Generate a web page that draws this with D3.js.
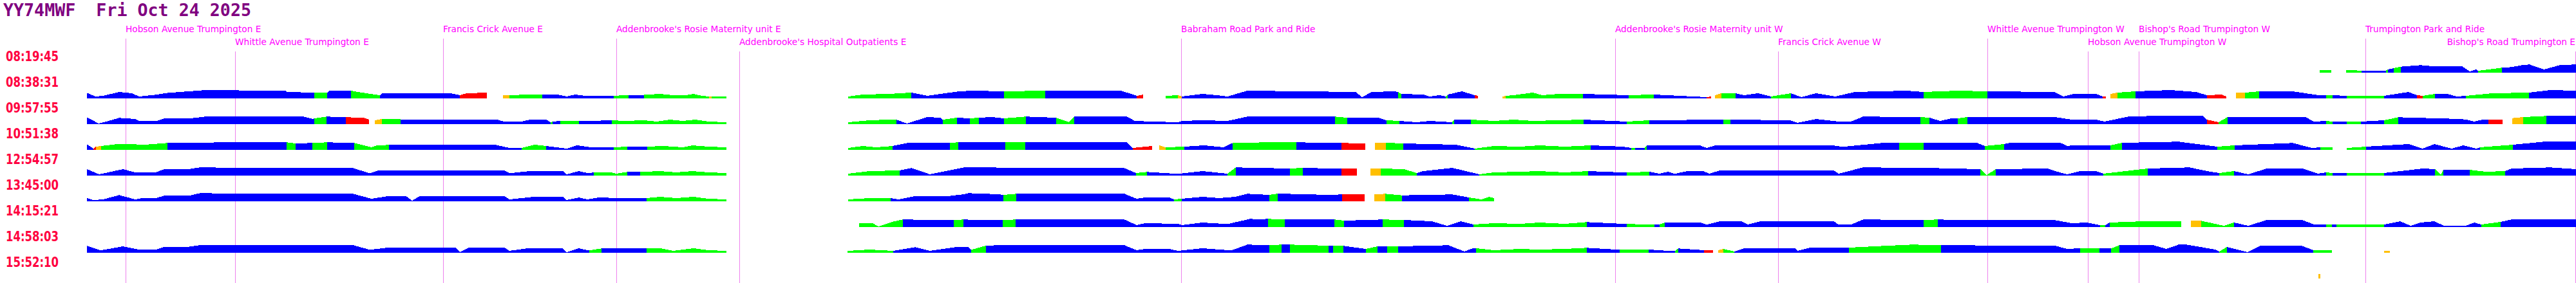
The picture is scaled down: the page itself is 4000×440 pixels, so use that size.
<!DOCTYPE html>
<html>
<head>
<meta charset="utf-8">
<script src="https://cdn.jsdelivr.net/npm/d3@7"></script>
<style>
  body { margin: 0; background: #fff; }
</style>
</head>
<body>
<div id="chart"></div>
<script>
// vehicle + day
const vehicle = "YY74MWF";
const dayLabel = "Fri Oct 24 2025";

// trip start times, one row each
const tripTimes = ["08:19:45", "08:38:31", "09:57:55", "10:51:38", "12:54:57",
                   "13:45:00", "14:15:21", "14:58:03", "15:52:10"];

// stops along the route (odometer km) and which label row they sit in
const stopNames = ["Hobson Avenue Trumpington E", "Whittle Avenue Trumpington E", "Francis Crick Avenue E",
  "Addenbrooke's Rosie Maternity unit E", "Addenbrooke's Hospital Outpatients E", "Babraham Road Park and Ride",
  "Addenbrooke's Rosie Maternity unit W", "Francis Crick Avenue W", "Whittle Avenue Trumpington W",
  "Hobson Avenue Trumpington W", "Bishop's Road Trumpington W", "Trumpington Park and Ride",
  "Bishop's Road Trumpington E"];
const stopKm = [1.95, 3.65, 6.88, 9.57, 11.48, 18.34, 25.08, 27.61, 30.86, 32.42, 33.21, 36.73, 39.99];
const stopLabelRow = [0, 1, 0, 0, 1, 0, 0, 1, 0, 1, 0, 0, 1];
const stopLineRow = [0, 1, 0, 0, 1, 0, 0, 1, 0, 1, 1, 0, 1];

// status colours
const statusKeys = ["b", "g", "o", "r"];
const statusColors = ["#0000ff", "#00ff00", "#ffbf00", "#ff0000"];

// [km, speed m/s, status of the stretch that starts here] (null = no data)
const trip_081945 = [[36.02,3.7,"g"],[36.20,3.7,null],[36.43,4,"g"],[36.67,3.3,"b"],[37.05,3.3,"g"],[37.08,5,"b"],
  [37.17,7,"g"],[37.28,9.3,"b"],[37.59,11.7,"b"],[37.78,10,"b"],[38.23,10,"b"],[38.35,2,"b"],[38.45,5,"b"],
  [38.48,3,"g"],[38.85,7.7,"b"],[39.00,8.7,"b"],[39.18,12,"b"],[39.28,12.7,"b"],[39.50,5,"b"],[39.76,12,"b"],
  [40.00,12.7,null]];

const trip_083831 = [[1.35,8.7,"b"],[1.48,3,"b"],[1.60,4,"b"],[1.85,10,"b"],[2.05,8,"b"],[2.16,3,"b"],[2.40,5.5,"b"],
  [2.60,8.5,"b"],[2.93,11,"b"],[3.20,13,"b"],[3.57,13,"b"],[3.85,12,"b"],[4.43,12,"b"],[4.46,10,"b"],[4.88,9,"g"],
  [5.08,9,"b"],[5.12,12,"b"],[5.45,12,"g"],[5.50,11,"g"],[5.75,7,"g"],[5.90,5,"b"],[5.94,8,"b"],[7.00,8,"b"],
  [7.14,5,"r"],[7.25,8,"r"],[7.56,9,null],[7.81,5,"o"],[7.91,5,"g"],[8.20,6,"g"],[8.42,6,"b"],[8.65,6,"b"],
  [8.80,3,"b"],[8.93,6,"b"],[9.05,4.5,"b"],[9.53,4,"g"],[9.76,5.5,"b"],[10.00,5.5,"g"],[10.25,7,"g"],[10.45,5,"g"],
  [10.65,5,"g"],[10.77,7,"g"],[10.90,4,"g"],[11.01,3,"o"],[11.05,3,"g"],[11.28,3,null],[13.17,3,"g"],[13.40,6,"g"],
  [13.80,7,"g"],[14.15,9,"b"],[14.40,4,"b"],[14.60,7,"b"],[14.90,11,"b"],[15.10,12,"b"],[15.59,11,"g"],
  [16.23,12,"b"],[17.40,12,"b"],[17.60,6,"b"],[17.65,4,"r"],[17.75,6,null],[18.10,4,"g"],[18.29,5,"o"],
  [18.35,3,"b"],[18.67,7,"b"],[18.90,5,"b"],[19.06,3,"b"],[19.37,12,"b"],[21.05,10,"b"],[21.15,2,"b"],
  [21.30,10,"b"],[21.65,11,"b"],[21.71,10,"g"],[21.76,7,"b"],[22.10,6,"b"],[22.20,3,"b"],[22.35,5,"b"],
  [22.45,3,"g"],[22.48,6,"b"],[22.70,11,"b"],[22.90,5,"r"],[22.95,4,null],[23.33,3,"o"],[23.38,4,"g"],
  [23.50,5,"g"],[23.80,9,"g"],[23.95,5,"g"],[24.20,7,"g"],[24.58,7,"b"],[25.29,5,"g"],[25.68,6,"b"],
  [26.50,2,"r"],[26.57,3,null],[26.63,5,"o"],[26.73,8,"g"],[26.95,8,"b"],[27.08,5,"b"],[27.30,8,"b"],
  [27.50,3,"g"],[27.81,8,"b"],[27.97,2,"b"],[28.20,8,"b"],[28.50,3,"b"],[28.80,10,"b"],[29.60,12,"b"],
  [29.87,10,"g"],[30.40,12,"g"],[30.86,11,"b"],[31.90,10,"b"],[32.04,3,"b"],[32.20,7,"b"],[32.55,7,"b"],
  [32.65,3,"r"],[32.70,3,null],[32.77,7,"o"],[32.88,9,"g"],[33.16,11,"b"],[33.70,13,"b"],[34.10,10,"b"],
  [34.27,5,"r"],[34.50,6,"r"],[34.57,3,null],[34.72,9,"o"],[34.86,9,"g"],[35.08,11,"b"],[35.60,11,"b"],
  [36.00,5,"b"],[36.12,5,"g"],[36.22,5,"b"],[36.44,4,"g"],[37.02,4,"b"],[37.40,10,"b"],[37.53,5,"r"],
  [37.62,4,"g"],[37.81,7,"b"],[38.00,7,"b"],[38.15,3,"b"],[38.29,4,"g"],[38.70,8,"g"],[39.27,9,"b"],
  [39.60,13,"b"],[40.00,12,null]];

const trip_095755 = [[1.35,10.7,"b"],[1.53,1,"b"],[1.65,4,"b"],[1.85,9.7,"b"],[2.10,8,"b"],[2.17,4.7,"b"],
  [2.42,4.7,"b"],[2.55,8.7,"b"],[2.93,8.7,"b"],[3.19,11.7,"b"],[4.60,11.7,"b"],[4.72,11.5,"b"],[4.86,8,"b"],
  [4.88,9,"g"],[5.07,11.7,"b"],[5.37,10.7,"r"],[5.65,10,"r"],[5.73,7,null],[5.82,6,"o"],[5.93,8,"g"],
  [6.22,7.5,"b"],[7.70,7.5,"b"],[7.84,3.7,"b"],[8.10,4,"b"],[8.23,7,"b"],[8.48,7,"b"],[8.55,3,"g"],[8.58,4,"b"],
  [8.70,5,"g"],[8.99,4.5,"b"],[9.50,6,"g"],[9.70,5,"g"],[10.00,6,"g"],[10.20,4,"g"],[10.40,7,"g"],[10.60,5,"g"],
  [10.80,7,"g"],[11.00,4,"g"],[11.28,3,null],[13.17,3,"g"],[13.50,6,"g"],[13.80,7,"g"],[13.92,7,"b"],
  [14.08,1,"b"],[14.40,11,"b"],[14.60,10,"b"],[14.64,7,"g"],[14.86,10,"b"],[15.06,9,"g"],[15.20,10,"b"],
  [15.40,11,"b"],[15.59,9,"g"],[15.93,11.7,"b"],[16.40,10,"g"],[16.60,3,"g"],[16.68,11.7,"b"],[17.50,11.7,"b"],
  [17.62,5,"b"],[17.90,4,"b"],[18.29,3,"b"],[18.35,5,"b"],[18.67,6,"b"],[19.06,5,"b"],[19.37,11.7,"b"],
  [20.73,11.7,"g"],[20.92,10,"b"],[21.40,10,"b"],[21.53,6,"g"],[21.73,5,"b"],[22.00,3,"b"],[22.20,5,"b"],
  [22.55,3,"g"],[22.58,7,"b"],[22.84,7,"g"],[23.20,5,"g"],[23.50,7,"g"],[23.80,5,"g"],[24.20,6,"g"],
  [24.59,7,"b"],[25.26,4,"g"],[25.61,6,"b"],[26.76,7,"g"],[26.87,7,"b"],[27.80,6,"b"],[27.91,2,"b"],
  [28.20,8,"b"],[28.55,4,"b"],[28.74,4,"b"],[28.93,11.7,"b"],[29.82,11,"g"],[29.96,10,"b"],[30.13,5,"b"],
  [30.30,9,"b"],[30.40,9,"g"],[30.55,11,"b"],[31.91,11,"b"],[32.17,7,"b"],[32.55,7,"b"],[32.68,4,"b"],
  [33.06,12,"b"],[33.44,12.7,"b"],[34.21,12.7,"b"],[34.27,7,"r"],[34.45,3,"g"],[34.59,11,"b"],[35.80,11,"b"],
  [35.93,4,"b"],[36.12,5,"g"],[36.22,4,"b"],[36.44,4,"g"],[36.66,4,"b"],[37.02,6,"g"],[37.24,10.7,"b"],
  [38.20,8,"b"],[38.30,7,"b"],[38.42,4,"b"],[38.55,7,"b"],[38.64,7,"r"],[38.86,7,null],[39.01,9.3,"o"],
  [39.18,11,"g"],[39.54,12.7,"b"],[40.00,12.7,null]];

const trip_105138 = [[1.35,8.7,"b"],[1.45,2,"r"],[1.49,5,"o"],[1.57,6,"g"],[1.80,8.7,"g"],[2.10,8.7,"g"],
  [2.20,7.7,"g"],[2.60,10.7,"b"],[3.50,11.7,"b"],[4.45,11.7,"g"],[4.59,10,"b"],[4.85,10.7,"g"],[5.08,11.7,"b"],
  [5.50,10.7,"g"],[5.77,4,"g"],[5.85,7,"g"],[6.04,7.7,"b"],[7.70,7.7,"b"],[7.91,3,"b"],[8.10,3,"g"],[8.30,8,"g"],
  [8.48,6,"b"],[8.80,2,"b"],[8.96,7,"b"],[9.18,4,"b"],[9.53,4,"g"],[9.74,5,"b"],[10.05,5,"g"],[10.30,6,"g"],
  [10.60,4,"g"],[10.75,7,"g"],[11.00,5,"g"],[11.28,4,null],[13.17,3,"g"],[13.40,6,"g"],[13.60,4,"g"],
  [13.86,6,"b"],[14.10,11,"b"],[14.75,11,"g"],[14.88,11.7,"b"],[15.61,11.7,"g"],[15.92,11.7,"b"],
  [17.50,11.7,"b"],[17.59,3,"r"],[17.89,6,null],[18.00,7,"o"],[18.10,4,"g"],[18.39,5,"b"],[18.70,7,"b"],
  [19.00,4,"b"],[19.14,10.7,"g"],[19.80,12,"g"],[20.13,11.7,"b"],[20.83,10.7,"r"],[21.20,10,null],
  [21.35,11,"o"],[21.52,11,"g"],[21.79,10,"b"],[22.60,8,"b"],[22.90,2,"g"],[23.20,6,"g"],[23.60,5,"g"],
  [23.90,7,"g"],[24.30,5,"g"],[24.70,7,"b"],[25.20,5,"b"],[25.33,3,"g"],[25.39,3,"b"],[25.54,3,"g"],
  [25.57,6.7,"b"],[26.40,6.7,"b"],[26.50,3,"b"],[26.63,6.7,"b"],[28.48,6.7,"b"],[28.61,4.7,"b"],[29.25,11,"b"],
  [29.49,10.7,"g"],[29.87,10.7,"b"],[30.70,10.7,"b"],[30.82,6,"g"],[31.12,9,"b"],[31.20,10.7,"b"],
  [32.00,10.7,"b"],[32.10,6,"b"],[32.17,7,"b"],[32.77,7,"g"],[32.95,11,"b"],[33.83,12.7,"b"],[34.20,8,"b"],
  [34.43,5,"g"],[34.70,7,"b"],[35.60,10.7,"b"],[35.90,3,"b"],[36.03,4,"g"],[36.22,4,null],[36.44,3,"g"],
  [36.74,5,"b"],[37.40,9,"b"],[37.62,2,"b"],[37.80,9,"b"],[38.07,2,"b"],[38.25,7,"b"],[38.45,2,"b"],
  [38.51,4,"g"],[39.02,8,"b"],[39.50,12.7,"b"],[40.00,12.7,null]];

const trip_125457 = [[1.35,10,"b"],[1.54,2,"b"],[1.91,10,"b"],[2.10,5,"b"],[2.42,5,"b"],[2.55,10,"b"],
  [2.93,10,"b"],[3.12,13,"b"],[3.57,12,"b"],[5.48,11.7,"b"],[5.74,3.7,"b"],[5.87,7.7,"b"],[7.84,7.7,"b"],
  [7.91,3.7,"b"],[8.23,7,"b"],[8.74,7,"b"],[8.80,2,"b"],[8.99,7,"b"],[9.12,4,"b"],[9.22,4.7,"g"],[9.50,4.7,"g"],
  [9.57,3,"g"],[9.74,5.7,"b"],[9.94,5.7,"g"],[10.25,7,"g"],[10.50,5,"g"],[10.75,7,"g"],[11.00,5,"g"],
  [11.28,4,null],[13.17,3,"g"],[13.50,7,"g"],[13.97,8,"b"],[14.15,11.7,"b"],[14.44,2,"b"],[14.97,12.7,"b"],
  [17.46,11.7,"b"],[17.64,4,"g"],[17.81,5.7,"b"],[18.29,2.7,"b"],[18.67,7,"b"],[19.06,3,"g"],[19.19,12.7,"b"],
  [20.03,11,"g"],[20.23,12,"b"],[20.83,10.7,"r"],[21.07,10.7,null],[21.28,11,"o"],[21.44,11,"g"],
  [21.80,10,"g"],[22.00,4,"b"],[22.10,7,"b"],[22.55,12,"b"],[22.97,2,"g"],[23.20,5,"g"],[23.60,6,"g"],
  [23.90,7,"g"],[24.30,5,"g"],[24.66,7,"b"],[25.26,4.7,"g"],[25.61,6,"b"],[25.77,3,"b"],[25.90,6,"b"],
  [26.00,2.7,"b"],[26.20,7,"b"],[26.45,7,"b"],[26.54,3,"b"],[26.70,7.7,"b"],[28.48,7.7,"b"],[28.55,3,"b"],
  [28.93,12.7,"b"],[29.90,12,"b"],[30.75,10,"g"],[30.85,1,"g"],[30.99,10,"b"],[31.80,11,"b"],[31.91,7,"b"],
  [32.10,2,"b"],[32.30,7,"b"],[32.55,7,"b"],[32.66,3,"g"],[33.35,11,"b"],[34.00,12.7,"b"],[34.27,7,"b"],
  [34.46,4,"g"],[34.69,7,"b"],[34.91,2,"b"],[35.20,11,"b"],[35.75,11,"b"],[35.99,3,"b"],[36.12,5,"g"],
  [36.22,4,"b"],[36.44,3.5,"g"],[37.02,4,"b"],[37.62,11,"b"],[37.81,10,"g"],[37.90,1,"g"],[37.94,9,"b"],
  [38.35,9,"g"],[38.60,6,"g"],[38.90,7,"b"],[39.00,11,"b"],[39.60,12.7,"b"],[40.00,10,null]];

const trip_134500 = [[1.35,5,"b"],[1.45,2,"b"],[1.60,3,"b"],[1.85,9.7,"b"],[2.10,3,"b"],[2.20,5,"b"],[2.42,5,"b"],
  [2.55,8.7,"b"],[2.93,8.7,"b"],[3.12,13,"b"],[3.57,11.7,"b"],[5.48,11.7,"b"],[5.77,4,"b"],[6.00,7.7,"b"],
  [6.31,7.7,"b"],[6.40,1,"b"],[6.51,7.7,"b"],[7.84,7.7,"b"],[7.91,3,"b"],[8.29,7,"b"],[8.74,7,"b"],[8.80,2,"b"],
  [8.99,6,"b"],[9.12,3,"b"],[9.30,6,"b"],[9.60,5,"b"],[10.04,5,"g"],[10.25,7,"g"],[10.50,5,"g"],[10.77,7,"g"],
  [11.00,4,"g"],[11.28,3,null],[13.17,3,"g"],[13.50,5,"g"],[13.83,5,"b"],[13.95,3,"b"],[14.21,8,"b"],
  [14.72,8,"b"],[14.97,11,"b"],[15.04,12.7,"b"],[15.50,11,"b"],[15.58,10,"g"],[15.78,11.7,"b"],[17.46,11.7,"b"],
  [17.65,4,"b"],[17.78,6,"b"],[18.16,6,"b"],[18.23,3,"g"],[18.35,4,"b"],[18.67,7,"b"],[18.93,5,"b"],
  [19.18,7,"b"],[19.37,11.7,"b"],[19.71,10,"g"],[19.84,12,"b"],[20.64,10,"b"],[20.84,10.7,"r"],
  [21.19,10.7,null],[21.34,10.7,"o"],[21.51,11.7,"g"],[21.77,9.3,"b"],[22.55,10.7,"b"],[22.81,6,"g"],
  [23.00,3,"g"],[23.12,7,"g"],[23.20,5,null]];

const trip_141521 = [[13.34,6,"g"],[13.55,6,"g"],[13.64,1,"g"],[13.85,8,"g"],[14.02,11.7,"b"],[14.81,10.7,"g"],
  [14.96,11.7,"b"],[15.30,10.7,"b"],[15.57,10.7,"g"],[15.77,11.7,"b"],[17.46,11.7,"b"],[17.65,3,"b"],
  [17.78,6,"b"],[18.29,5,"b"],[18.35,3,"b"],[18.67,7,"b"],[19.06,4.7,"b"],[19.37,11.7,"b"],[19.42,13,"b"],
  [19.50,11.7,"b"],[19.69,12.7,"g"],[19.95,11.7,"b"],[20.72,11.7,"g"],[20.87,10,"b"],[21.47,11.7,"g"],
  [21.80,11,"b"],[22.23,9,"b"],[22.47,2,"b"],[22.68,9,"b"],[22.88,4,"g"],[23.20,6,"g"],[23.60,5,"g"],
  [23.90,7,"g"],[24.30,5,"g"],[24.64,7.7,"b"],[25.26,4.7,"g"],[25.69,4,"b"],[25.77,4,"g"],[25.85,7,"b"],
  [26.40,7,"b"],[26.50,3.7,"b"],[26.70,8.7,"b"],[27.05,8.7,"b"],[27.14,4,"b"],[27.33,8.7,"b"],[28.48,8.7,"b"],
  [28.55,3.7,"b"],[28.74,3.7,"b"],[28.93,11.7,"b"],[29.87,11,"g"],[30.09,11.7,"b"],[30.51,10.7,"b"],
  [31.91,10.7,"b"],[32.17,6,"b"],[32.40,7,"b"],[32.61,3,"g"],[32.69,3,"b"],[32.76,7,"g"],[33.30,9,"g"],
  [33.87,9,null],[34.02,9.7,"o"],[34.18,9.7,"g"],[34.53,2,"g"],[34.69,7,"b"],[34.91,2,"b"],[35.20,11,"b"],
  [35.75,11,"b"],[35.93,4,"b"],[36.12,4,"g"],[36.21,4,"b"],[36.28,4,"g"],[37.02,4,"b"],[37.27,9,"b"],
  [37.43,2,"b"],[37.59,7,"b"],[37.80,9,"b"],[37.95,2,"b"],[38.29,2,"b"],[38.42,7,"b"],[38.53,4,"g"],
  [38.83,8,"b"],[39.00,11.7,"b"],[40.00,11.7,null]];

const trip_145803 = [[1.35,10.7,"b"],[1.56,3.7,"b"],[1.91,10,"b"],[2.17,4.7,"b"],[2.42,4.7,"b"],[2.55,9.3,"b"],
  [2.93,9.3,"b"],[3.12,12,"b"],[5.48,12,"b"],[5.74,4.7,"b"],[6.00,7.7,"b"],[7.08,7.7,"b"],[7.14,1,"b"],
  [7.27,7.7,"b"],[7.84,7.7,"b"],[7.91,3,"b"],[8.17,6.7,"b"],[8.74,6.7,"b"],[8.80,1,"b"],[8.99,7,"b"],
  [9.12,4,"b"],[9.15,3.7,"g"],[9.34,6.7,"b"],[10.04,6.7,"g"],[10.25,7,"g"],[10.45,3,"g"],[10.77,7,"g"],
  [11.00,4,"g"],[11.28,3,null],[13.16,3,"g"],[13.50,5,"g"],[13.87,3,"b"],[14.21,8.7,"b"],[14.44,3,"b"],
  [14.85,9,"b"],[15.04,9,"b"],[15.08,4.7,"g"],[15.31,11,"b"],[15.48,11.7,"b"],[17.46,11.7,"b"],[17.65,4,"b"],
  [17.78,6,"b"],[18.16,6,"b"],[18.29,3,"b"],[18.67,7,"b"],[19.12,3.7,"b"],[19.37,12.7,"b"],[19.71,11.7,"g"],
  [19.90,12.7,"b"],[20.03,12.7,"g"],[20.63,11,"b"],[20.70,11,"g"],[20.86,10.7,"b"],[21.21,6,"g"],
  [21.39,10,"b"],[21.54,10,"g"],[21.71,10,"b"],[22.49,11.7,"b"],[22.74,2,"b"],[22.87,7,"b"],[22.92,7,"g"],
  [23.20,4,"g"],[23.60,6,"g"],[23.90,5,"g"],[24.30,6,"g"],[24.64,7.7,"b"],[25.15,4.7,"g"],[25.60,5,"b"],
  [25.90,3,"b"],[26.01,3,"g"],[26.06,6.7,"b"],[26.46,4,"r"],[26.60,4,null],[26.68,4,"o"],[26.76,6,"g"],
  [26.93,2,"b"],[27.08,7,"b"],[27.88,7,"b"],[27.91,3,"b"],[28.10,7.7,"b"],[28.71,8,"g"],[29.25,10.7,"g"],
  [29.70,12.7,"g"],[30.14,11.7,"b"],[31.91,11,"b"],[32.10,6,"b"],[32.30,7,"g"],[32.60,6.7,"b"],
  [32.78,6.7,"g"],[32.91,11.7,"b"],[33.44,11.7,"b"],[33.64,6,"b"],[33.83,12.7,"b"],[33.95,12.7,"b"],
  [34.40,5,"b"],[34.46,2,"g"],[34.58,9,"b"],[34.90,1,"b"],[35.10,11,"b"],[35.74,11,"b"],[35.92,4,"g"],
  [36.21,4,null],[37.02,3,"o"],[37.11,3,null]];

const trip_155210 = [[36.00,6.7,"o"],[36.03,6.7,null]];

const trips = [trip_081945, trip_083831, trip_095755, trip_105138, trip_125457,
               trip_134500, trip_141521, trip_145803, trip_155210];

const W = 4000, H = 440;

const svg = d3.select("#chart").append("svg")
    .attr("width", W)
    .attr("height", H)
    .style("display", "block");

// scales
const x = d3.scaleLinear().domain([1.35, 40.00]).range([135, 4000]);
const row = d3.scaleBand().domain(tripTimes).range([80, 440]);   // top of each row's time label
const speed = d3.scaleLinear().domain([0, 14]).range([0, 14]);
const color = d3.scaleOrdinal().domain(statusKeys).range(statusColors);
const labelRowY = [50, 70];   // text baselines for the two stop-label rows
const lineTopY = [60, 80];

// title
svg.append("text")
    .attr("x", 5)
    .attr("y", 25)
    .attr("textLength", 385)
    .attr("lengthAdjust", "spacingAndGlyphs")
    .style("white-space", "pre")
    .style("font-family", "'DejaVu Sans Mono', monospace")
    .style("font-weight", "bold")
    .style("font-size", "27px")
    .attr("fill", "#800080")
    .text(vehicle + "  " + dayLabel);

// stop lines (behind the data)
const stops = stopNames.map((name, i) => ({ name, km: stopKm[i], labelRow: stopLabelRow[i], lineRow: stopLineRow[i] }));

svg.append("g")
    .selectAll("line")
    .data(stops)
    .enter()
    .append("line")
    .attr("x1", d => Math.round(x(d.km)) + 0.5)
    .attr("x2", d => Math.round(x(d.km)) + 0.5)
    .attr("y1", d => lineTopY[d.lineRow])
    .attr("y2", H)
    .attr("stroke", "violet")
    .attr("stroke-width", 1);

svg.append("g")
    .selectAll("text")
    .data(stops)
    .enter()
    .append("text")
    .attr("x", d => Math.round(x(d.km)))
    .attr("y", d => labelRowY[d.labelRow])
    .style("font-family", "'DejaVu Sans', sans-serif")
    .style("font-size", "13.7px")
    .attr("fill", "#ff00ff")
    .text(d => d.name)
    .each(function(d) {
        // keep labels inside the picture: pull back from the right edge
        const len = this.getComputedTextLength();
        const x0 = Math.round(x(d.km));
        if (x0 + len > W - 1) d3.select(this).attr("x", W - 1 - len);
    });

// time labels
svg.append("g")
    .selectAll("text")
    .data(tripTimes)
    .enter()
    .append("text")
    .attr("x", 9)
    .attr("y", d => row(d) + 15)
    .attr("textLength", 82)
    .attr("lengthAdjust", "spacingAndGlyphs")
    .style("font-family", "'DejaVu Sans', sans-serif")
    .style("font-weight", "bold")
    .style("font-size", "20.5px")
    .attr("fill", "#ff0040")
    .text(d => d);

// split a trip into runs of the same status
function runs(pts) {
    const out = [];
    for (let i = 0; i < pts.length - 1; i++) {
        const c = pts[i][2];
        if (!c) continue;
        const last = out[out.length - 1];
        if (last && last.c === c && last.end === i) {
            last.pts.push(pts[i + 1]);
            last.end = i + 1;
        } else {
            out.push({ c: c, pts: [pts[i], pts[i + 1]], end: i + 1 });
        }
    }
    return out;
}

const area = d3.area()
    .x(p => x(p[0]))
    .y0(0)
    .y1(p => -speed(p[1]));

trips.forEach((pts, i) => {
    const g = svg.append("g")
        .attr("transform", `translate(0,${row(tripTimes[i]) + 33})`);
    g.selectAll("path")
        .data(runs(pts))
        .enter()
        .append("path")
        .attr("d", d => area(d.pts))
        .attr("fill", d => color(d.c))
        .attr("shape-rendering", "crispEdges");
});
</script>
</body>
</html>
